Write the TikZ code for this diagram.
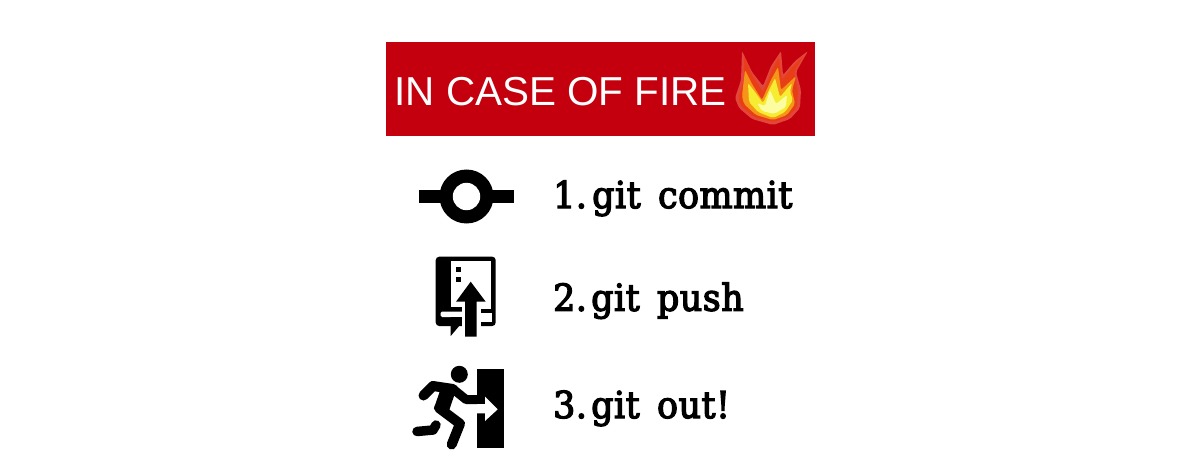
\documentclass[tikz,border=0pt]{standalone}
\usepackage{fontspec}
\setmainfont{Liberation Sans}
\newfontfamily\slabfont[FakeBold=3.5,FakeStretch=0.94,LetterSpace=1.5,WordSpace=1.5]{DejaVu Serif}
\definecolor{bannerred}{RGB}{196,0,14}
\definecolor{flameO}{RGB}{226,70,60}
\definecolor{flameA}{RGB}{232,62,22}
\definecolor{flameB}{RGB}{246,150,24}
\definecolor{flameC}{RGB}{246,236,50}
\definecolor{flameD}{RGB}{252,252,160}
\tikzset{
  banner/.style={fill=bannerred,draw=none},
  bannertext/.style={text=white,font=\fontsize{40.4}{42}\selectfont,anchor=base west,inner sep=0pt},
  item/.style={text=black,font=\slabfont\fontsize{37}{40}\selectfont,anchor=base west,inner sep=0pt},
  glyph/.style={fill=black,draw=none},
  hole/.style={fill=white,draw=none},
  limb/.style={draw=black,line cap=round,line join=round},
  flame/.style={draw=none,rounded corners=2pt},
}
\begin{document}
\begin{tikzpicture}[x=1pt,y=-1pt]
\useasboundingbox (0,0) rectangle (1200,476);
\fill[white] (0,0) rectangle (1200,476);
% banner
\fill[banner] (386,42) rectangle (815,136);
\node[bannertext] (title) at (394.5,105.7) {IN CASE OF FIRE};
% flame
\fill[flame,fill=flameO] (742,51) -- (752,72) -- (763,86) -- (771,66) -- (781,51) -- (783,75) -- (795,61) -- (808,51) -- (796,72) -- (801,90) -- (800,108) -- (790,119) -- (773,125) -- (752,119) -- (739,108) -- (735,98) -- (741,80) -- cycle;
\fill[flame,fill=flameA] (744,56) -- (752,75) -- (763,92) -- (772,70) -- (779,57) -- (782,80) -- (795,64) -- (804,55) -- (794,72) -- (798,90) -- (797,107) -- (788,117) -- (773,122) -- (754,117) -- (741,106) -- (738,98) -- (744,80) -- cycle;
\fill[flame,fill=flameB] (745,70) -- (752,84) -- (762,100) -- (771,80) -- (778,67) -- (781,90) -- (796,76) -- (792,90) -- (795,104) -- (787,115) -- (773,120) -- (756,115) -- (744,104) -- (742,96) -- cycle;
\fill[flame,fill=flameC] (748,83) -- (755,92) -- (763,103) -- (770,88) -- (775,78) -- (780,97) -- (792,83) -- (790,92) -- (793,100) -- (785,112) -- (773,118) -- (758,112) -- (749,102) -- cycle;
\fill[flame,fill=flameD] (757,103) -- (765,106) -- (770,90) -- (776,104) -- (787,95) -- (786,107) -- (774,114) -- (762,111) -- cycle;
% commit
\fill[glyph] (419,190) rectangle (514,203);
\fill[glyph] (466.5,196.5) circle (27);
\fill[hole] (466.5,196.5) circle (13.7);
\node[item] (t1) at (553,208) {1.};
\node[item] (t1b) at (592,208) {git commit};
% push
\fill[glyph,rounded corners=3.5pt] (435.7,256.7) rectangle (495.7,326);
\fill[hole] (450.7,261) rectangle (491,307);
\fill[hole,rounded corners=1.5pt] (440.5,311.5) rectangle (470,317);
\fill[hole] (461.7,300) rectangle (481,340);
\fill[hole] (481,312.7) rectangle (491.5,321.7);
\fill[hole] (481,304) rectangle (491,309);
\fill[glyph] (455.7,266.7) rectangle (460.7,271.7);
\fill[glyph] (455.7,276.7) rectangle (460.7,281.7);
\fill[glyph] (470.7,281.7) -- (485.7,301.7) -- (476.5,301.7) -- (476.5,336.5) -- (465,336.5) -- (465,301.7) -- (456,301.7) -- cycle;
\fill[glyph] (450.7,317) -- (461.7,317) -- (461.7,323) -- (450.7,336) -- cycle;
% exit
\fill[glyph] (476.7,369) rectangle (504,448.3);
\fill[hole] (476.7,404) -- (485,404) -- (485,396.7) -- (497.7,409.3) -- (485,421) -- (485,413.3) -- (476.7,413.3) -- cycle;
\fill[glyph] (459.3,374.3) circle (8.5);
\draw[limb,line width=10pt] (423.5,395.5) -- (433,386) -- (453,389);
\draw[limb,line width=9pt] (453,389) -- (466,399.5) -- (477,399.5);
\draw[limb,line width=15pt,line cap=butt] (449.5,386) -- (441,411);
\draw[limb,line width=10pt] (439,408) -- (460,423.7) -- (451.7,444.5);
\draw[limb,line width=9.5pt] (436,425) -- (433,430) -- (417,431.5);
\node[item] (t2) at (553,310.7) {2.};
\node[item] (t2b) at (591,310.7) {git push};
\node[item] (t3) at (553,418) {3.};
\node[item] (t3b) at (591,418) {git out!};
\end{tikzpicture}
\end{document}
